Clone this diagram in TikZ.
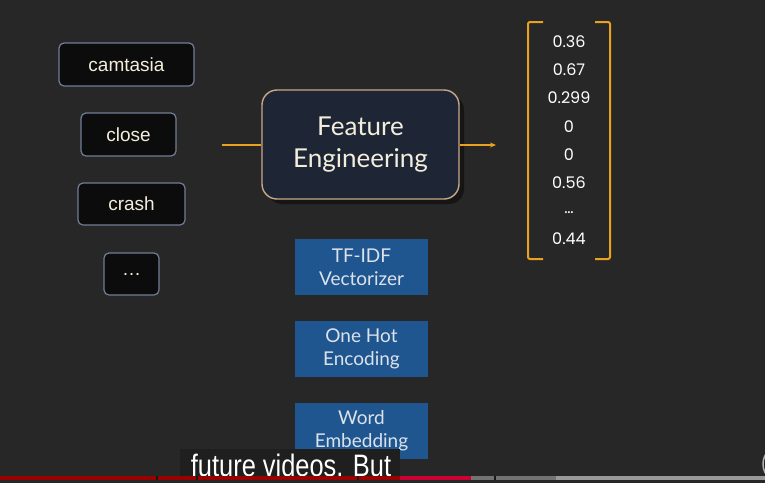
\documentclass[tikz,border=0pt]{standalone}
\usepackage{fontspec}
\setmainfont{Lato}
\newfontfamily\arialfont{Liberation Sans}
\newfontfamily\numfont{Poppins}
\newfontfamily\capfont[FakeStretch=0.82]{Liberation Sans}
\usetikzlibrary{arrows.meta, shadows}

\definecolor{slidebg}{HTML}{272727}
\definecolor{wordfill}{HTML}{0C0C0C}
\definecolor{wordedge}{HTML}{717E95}
\definecolor{fefill}{HTML}{1E2636}
\definecolor{feedge}{HTML}{C9A888}
\definecolor{flow}{HTML}{E8A21E}
\definecolor{techfill}{HTML}{1F5690}
\definecolor{techtext}{HTML}{DCE2EA}
\definecolor{cream}{HTML}{F3EEDC}

\tikzset{
  wordbox/.style={draw=wordedge, fill=wordfill, line width=1.2pt, rounded corners=5pt, inner sep=0pt, text=cream, font=\arialfont\fontsize{19}{21}\selectfont},
  techbox/.style={fill=techfill, inner sep=0pt, minimum width=133pt, minimum height=56pt, text=techtext, align=center, font=\fontsize{19}{23}\selectfont},
  valtext/.style={text=white, font=\numfont\fontsize{16}{18}\selectfont, inner sep=0pt}
}

\begin{document}
\begin{tikzpicture}[x=1pt,y=-1pt]
\useasboundingbox (0,0) rectangle (765,483);
\fill[slidebg] (0,0) rectangle (765,483);
% input words
\node[wordbox, minimum width=135pt, minimum height=43pt] (camtasia) at (126.5,64.5) {camtasia};
\node[wordbox, minimum width=95pt, minimum height=43pt] (close) at (128.5,134.5) {close};
\node[wordbox, minimum width=107pt, minimum height=42pt] (crash) at (131.5,204) {crash};
\node[wordbox, minimum width=55pt, minimum height=42pt] (more) at (131.5,274) {\ldots};
% feature engineering block
\node[draw=feedge, fill=fefill, line width=1.4pt, rounded corners=15pt, minimum width=197pt, minimum height=109pt, align=center, text=cream, font=\fontsize{26}{32}\selectfont, drop shadow={shadow xshift=5pt, shadow yshift=-5pt, opacity=0.45, fill=black}] (fe) at (360.5,144.5) {Feature\\Engineering};
\coordinate (infeed) at (222,145);
\coordinate (vecin) at (496,145);
\draw[flow, line width=1.6pt] (infeed) -- (fe.west |- infeed);
\draw[flow, line width=1.6pt, -{Stealth[length=6pt,width=5pt]}] (fe.east |- vecin) -- (vecin);
% output vector
\draw[flow, line width=2pt, rounded corners=2pt] (543,22) -- (528,22) -- (528,259) -- (543,259);
\draw[flow, line width=2pt, rounded corners=2pt] (595,22) -- (610,22) -- (610,259) -- (595,259);
\node[valtext] (v1) at (569,42) {0.36};
\node[valtext] (v2) at (569,70) {0.67};
\node[valtext] (v3) at (569,98) {0.299};
\node[valtext] (v4) at (569,127) {0};
\node[valtext] (v5) at (569,155) {0};
\node[valtext] (v6) at (569,183) {0.56};
\node[valtext] (v7) at (569,213) {\ldots};
\node[valtext] (v8) at (569,239) {0.44};
% techniques
\node[techbox] (tfidf) at (361.5,267) {TF-IDF\\Vectorizer};
\node[techbox] (onehot) at (361.5,349) {One Hot\\Encoding};
\node[techbox] (embed) at (361.5,431) {Word\\Embedding};
% player overlay
\fill[black!88] (180,449) rectangle (400,480);
\node[text=white, font=\capfont\fontsize{31}{33}\selectfont, inner sep=0pt] (caption) at (291,465) {future videos. But};
\fill[black!40] (556,476) rectangle (765,480);
\fill[black!55] (471,476) rectangle (556,480);
\fill[red!60!black] (0,476) rectangle (400,480);
\fill[purple!80!red] (400,476) rectangle (471,480);
\foreach \g in {156,196,357,494}
  \fill[slidebg!60!black] (\g,476) rectangle (\g+2,480);
\draw[gray!60, line width=1.5pt] (782,464) circle (19);
\end{tikzpicture}
\end{document}
